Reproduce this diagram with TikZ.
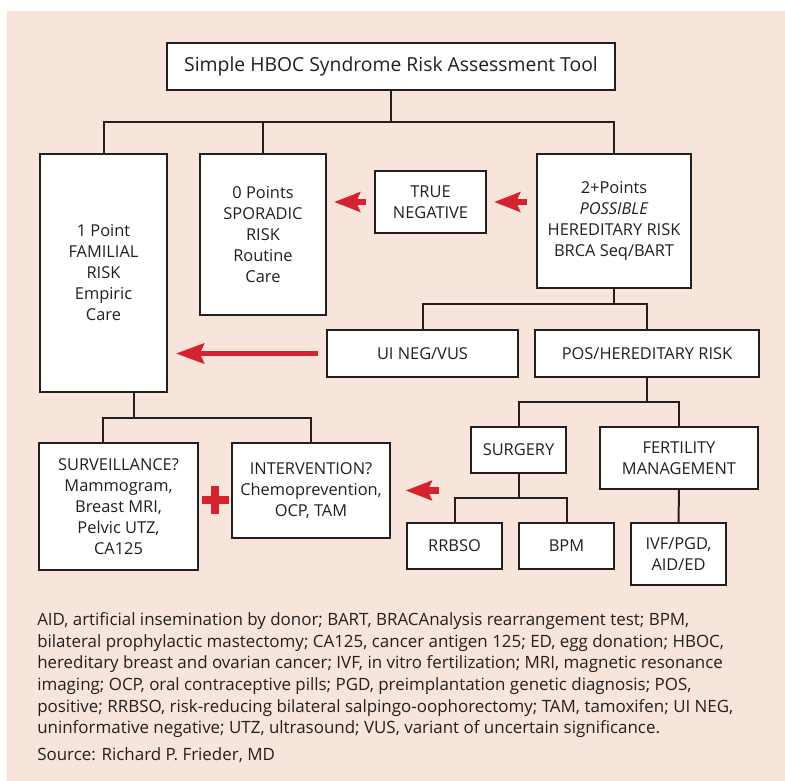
\documentclass[tikz,border=0pt]{standalone}
\usepackage{fontspec}
\setmainfont{Open Sans}
\usetikzlibrary{arrows.meta,calc}
\definecolor{bgpink}{HTML}{F7E4DA}
\definecolor{arrred}{HTML}{D4222E}
\definecolor{ink}{HTML}{231F20}
\newcommand\bxfont{\fontsize{12.3pt}{15.75pt}\selectfont}
\newcommand\ttlfont{\fontsize{14.5pt}{17pt}\selectfont}
\newcommand\fnfont{\fontsize{12.7pt}{16pt}\selectfont}
\begin{document}
\begin{tikzpicture}[x=0.75pt,y=-0.75pt,
  box/.style={draw=ink, line width=1.5pt, fill=white, align=center, inner sep=0pt, font=\bxfont, text=ink},
  wh/.style 2 args={minimum width=#1*0.75pt, minimum height=#2*0.75pt},
  conn/.style={draw=ink, line width=1.5pt},
  bigarr/.style={draw=arrred, line width=3.75pt, -{Stealth[length=21pt,width=15pt,inset=3pt]}},
  smallarr/.style={draw=arrred, line width=5pt, -{Stealth[length=19.5pt,width=14.5pt,inset=3pt]}},
  fn/.style={anchor=base west, inner sep=0pt, font=\fnfont, text=ink}]
\useasboundingbox (0,0) rectangle (785,781);
\fill[bgpink] (7,11) rectangle (785,781);

% boxes
\node[box, wh={448}{47}, font=\ttlfont] (title) at (391,66.5) {Simple HBOC Syndrome Risk Assessment Tool};
\node[box, wh={127}{238}] (one) at (103.5,273) {1 Point\\FAMILIAL\\RISK\\Empiric\\Care};
\node[box, wh={126}{161}] (zero) at (263,234.5) {0 Points\\SPORADIC\\RISK\\Routine\\Care};
\node[box, wh={111}{62}] (trueneg) at (430.5,202) {TRUE\\NEGATIVE};
\node[box, wh={154}{134}] (two) at (614,221) {2+Points\\\textit{POSSIBLE}\\HEREDITARY RISK\\BRCA Seq/BART};
\node[box, wh={191}{47}] (uineg) at (422.5,353.5) {UI NEG/VUS};
\node[box, wh={224}{47}] (pos) at (647,353.5) {POS/HEREDITARY RISK};
\node[box, wh={95}{46}] (surgery) at (518.5,450) {SURGERY};
\node[box, wh={158}{62}] (fert) at (679,458) {FERTILITY\\MANAGEMENT};
\node[box, wh={95}{46}] (rrbso) at (454.5,546) {RRBSO};
\node[box, wh={95}{46}] (bpm) at (566.5,546) {BPM};
\node[box, wh={95}{62}] (ivf) at (678.5,554) {IVF/PGD,\\AID/ED};
\node[box, wh={159}{127}] (surv) at (118.5,506.5) {SURVEILLANCE?\\Mammogram,\\Breast MRI,\\Pelvic UTZ,\\CA125};
\node[box, wh={158}{95}] (interv) at (311,490.5) {INTERVENTION?\\Chemoprevention,\\OCP, TAM};

% connectors
\coordinate (h1) at ($(title.south)+(0,31.5)$);
\draw[conn] (title.south) -- (h1);
\draw[conn] (one.north) |- (h1) -| (two.north);
\draw[conn] (zero.north) -- (zero.north |- h1);

\coordinate (h2) at ($(two.south)+(0,15)$);
\draw[conn] (two.south) -- (h2);
\draw[conn] (uineg.north) |- (h2) -| (pos.north);

\coordinate (h3) at ($(pos.south)+(0,24)$);
\draw[conn] (pos.south) -- (h3);
\draw[conn] (surgery.north) |- (h3) -| (fert.north);

\coordinate (h4) at ($(surgery.south)+(0,24)$);
\draw[conn] (surgery.south) -- (h4);
\draw[conn] (rrbso.north) |- (h4) -| (bpm.north);

\draw[conn] (fert.south) -- (ivf.north);

\coordinate (d1) at ($(one.south)+(30.5,0)$);
\coordinate (h5) at ($(d1)+(0,25)$);
\draw[conn] (d1) -- (h5);
\coordinate (s1) at ($(surv.north)+(-15.5,0)$);
\draw[conn] (s1) |- (h5) -| (interv.north);

% red arrows
\draw[bigarr, shorten <=6pt, shorten >=6pt] (uineg.west) -- (one.east |- uineg.west);
\draw[smallarr, shorten <=6pt, shorten >=5.25pt] (trueneg.west) -- (zero.east |- trueneg.west);
\draw[smallarr, shorten <=6.75pt, shorten >=5.25pt] (two.west |- trueneg.east) -- (trueneg.east);
\coordinate (at) at (439,490.5);
\draw[smallarr, shorten >=11pt] (at) -- (interv.east);

% plus sign
\coordinate (plus) at ($(surv.east)!0.5!(interv.west |- surv.east)$);
\fill[arrred] ($(plus)+(-13.5,-11)$) rectangle +(27,8);
\fill[arrred] ($(plus)+(-4,-21)$) rectangle +(8,28);

% footnote
\node[fn] (fn1) at (37,625) {AID, artificial insemination by donor; BART, BRACAnalysis rearrangement test; BPM,};
\node[fn] (fn2) at (37,647) {bilateral prophylactic mastectomy; CA125, cancer antigen 125; ED, egg donation; HBOC,};
\node[fn] (fn3) at (37,668) {hereditary breast and ovarian cancer; IVF, in vitro fertilization; MRI, magnetic resonance};
\node[fn] (fn4) at (37,690) {imaging; OCP, oral contraceptive pills; PGD, preimplantation genetic diagnosis; POS,};
\node[fn] (fn5) at (37,712) {positive; RRBSO, risk-reducing bilateral salpingo-oophorectomy; TAM, tamoxifen; UI NEG,};
\node[fn] (fn6) at (37,733) {uninformative negative; UTZ, ultrasound; VUS, variant of uncertain significance.};
\node[fn] (src) at (37,760) {Source: Richard P. Frieder, MD};
\end{tikzpicture}
\end{document}
